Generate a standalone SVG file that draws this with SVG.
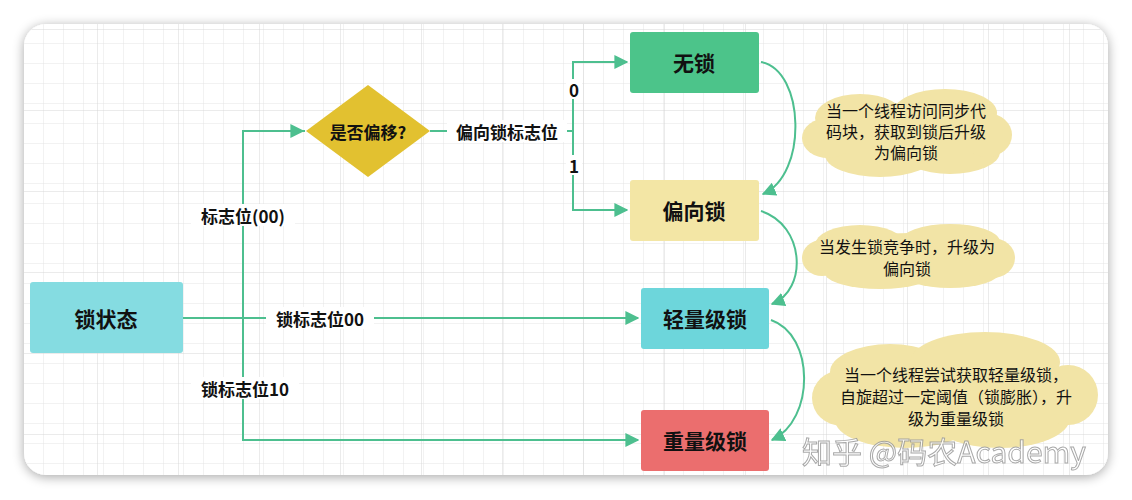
<svg xmlns="http://www.w3.org/2000/svg" width="1132" height="500" viewBox="0 0 1132 500">
<defs>
<pattern id="minor" x="24" y="24" width="20" height="20" patternUnits="userSpaceOnUse"><path d="M20 0V20H0" fill="none" stroke="#e4e4e4" stroke-width="1"/></pattern>
<pattern id="major" x="17" y="30" width="81" height="81" patternUnits="userSpaceOnUse"><path d="M81 0V81H0" fill="none" stroke="#d6d6d6" stroke-width="1"/></pattern>
<filter id="sh" x="-5%" y="-5%" width="110%" height="110%"><feGaussianBlur in="SourceAlpha" stdDeviation="6"/><feOffset dx="0" dy="2"/><feComponentTransfer><feFuncA type="linear" slope="0.35"/></feComponentTransfer><feMerge><feMergeNode/><feMergeNode in="SourceGraphic"/></feMerge></filter>
<marker id="arr" viewBox="0 0 10 10" refX="9" refY="5" markerWidth="14" markerHeight="14" markerUnits="userSpaceOnUse" orient="auto"><path d="M0 0L10 5L0 10Z" fill="#4dbf8f"/></marker>
</defs>
<style>
.t{font-family:"Noto Sans CJK SC","Liberation Sans",sans-serif;fill:#111}
.nb{font-size:21px;font-weight:bold;text-anchor:middle;dominant-baseline:central}
.lb{font-size:17px;font-weight:bold;text-anchor:middle;dominant-baseline:central}
.cl{font-size:16px;text-anchor:middle}
.c{fill:none;stroke:#4dbf8f;stroke-width:2}
.cloud{fill:#f2e4a6}
</style>
<rect width="1132" height="500" fill="#ffffff"/>
<rect x="24" y="24" width="1084" height="451" rx="22" fill="#fff" filter="url(#sh)"/>
<g>
<rect x="24" y="24" width="1084" height="451" rx="22" fill="url(#minor)"/>
<rect x="24" y="24" width="1084" height="451" rx="22" fill="url(#major)"/>
</g>
<g id="connectors">
<path class="c" d="M183 318H638" marker-end="url(#arr)"/>
<path class="c" d="M305 131H243V440H638" marker-end="url(#arr)"/>
<path class="c" d="M243 131H303" marker-end="url(#arr)"/>
<path class="c" d="M430 131H573"/>
<path class="c" d="M573 131V62H627" marker-end="url(#arr)"/>
<path class="c" d="M573 131V210H627" marker-end="url(#arr)"/>
<path class="c" d="M761 62C805 70 808 175 763 194" marker-end="url(#arr)"/>
<path class="c" d="M761 211C805 225 808 290 772 304" marker-end="url(#arr)"/>
<path class="c" d="M771 320C815 335 815 420 772 440" marker-end="url(#arr)"/>
<rect x="266" y="307" width="108" height="22" fill="#fff"/>
<text class="t lb" x="320" y="318">锁标志位00</text>
<rect x="191" y="204" width="104" height="22" fill="#fff"/>
<text class="t lb" x="243" y="215">标志位(00)</text>
<rect x="191" y="377" width="108" height="22" fill="#fff"/>
<text class="t lb" x="245" y="388">锁标志位10</text>
<rect x="447" y="120" width="120" height="22" fill="#fff"/>
<text class="t lb" x="507" y="131">偏向锁标志位</text>
<rect x="566" y="79" width="16" height="20" fill="#fff"/>
<text class="t lb" x="574" y="89">0</text>
<rect x="566" y="155" width="16" height="20" fill="#fff"/>
<text class="t lb" x="574" y="165">1</text>
</g>
<g id="n-state"><rect x="30" y="282" width="153" height="71" rx="3" fill="#85dce1"/><text class="t nb" x="106" y="318">锁状态</text></g>
<g id="n-decide"><path d="M368 85L430 131L368 177L306 131Z" fill="#e2c130"/><text class="t lb" x="368" y="131">是否偏移?</text></g>
<g id="n-nolock"><rect x="630" y="32" width="129" height="61" rx="3" fill="#4cc48a"/><text class="t nb" x="694" y="62">无锁</text></g>
<g id="n-biased"><rect x="630" y="180" width="129" height="61" rx="3" fill="#f3e6a5"/><text class="t nb" x="694" y="210">偏向锁</text></g>
<g id="n-light"><rect x="641" y="288" width="128" height="61" rx="3" fill="#6dd6db"/><text class="t nb" x="705" y="318">轻量级锁</text></g>
<g id="n-heavy"><rect x="641" y="410" width="128" height="61" rx="3" fill="#eb6e6e"/><text class="t nb" x="705" y="440">重量级锁</text></g>
<g id="cloud1"><g class="cloud"><ellipse cx="905" cy="133" rx="97" ry="30"/><ellipse cx="860" cy="118" rx="45" ry="24"/><ellipse cx="945" cy="113" rx="52" ry="24"/><ellipse cx="880" cy="155" rx="55" ry="22"/><ellipse cx="950" cy="152" rx="50" ry="22"/><ellipse cx="828" cy="138" rx="26" ry="20"/><ellipse cx="987" cy="135" rx="25" ry="22"/></g>
<text class="t cl" x="906" y="117">当一个线程访问同步代</text><text class="t cl" x="906" y="138">码块，获取到锁后升级</text><text class="t cl" x="906" y="159">为偏向锁</text></g>
<g id="cloud2"><g class="cloud"><ellipse cx="910" cy="258" rx="97" ry="25"/><ellipse cx="860" cy="245" rx="45" ry="20"/><ellipse cx="950" cy="242" rx="50" ry="18"/><ellipse cx="880" cy="273" rx="55" ry="16"/><ellipse cx="950" cy="272" rx="50" ry="16"/><ellipse cx="992" cy="258" rx="23" ry="20"/><ellipse cx="822" cy="258" rx="20" ry="18"/></g>
<text class="t cl" x="907" y="253">当发生锁竞争时，升级为</text><text class="t cl" x="907" y="275">偏向锁</text></g>
<g id="cloud3"><g class="cloud"><ellipse cx="955" cy="392" rx="122" ry="45"/><ellipse cx="890" cy="372" rx="60" ry="28"/><ellipse cx="985" cy="362" rx="75" ry="30"/><ellipse cx="905" cy="420" rx="70" ry="28"/><ellipse cx="1000" cy="418" rx="70" ry="30"/><ellipse cx="1068" cy="395" rx="30" ry="30"/><ellipse cx="842" cy="398" rx="30" ry="28"/></g>
<text class="t cl" x="956" y="381">当一个线程尝试获取轻量级锁，</text><text class="t cl" x="956" y="403">自旋超过一定阈值（锁膨胀），升</text><text class="t cl" x="956" y="425">级为重量级锁</text></g>
<text x="944" y="463" font-family="'Noto Sans CJK SC','Liberation Sans',sans-serif" font-size="30" text-anchor="middle" fill="#ffffff" stroke="#9a9a9a" stroke-width="1" opacity="0.85">知乎 @码农Academy</text>
</svg>
